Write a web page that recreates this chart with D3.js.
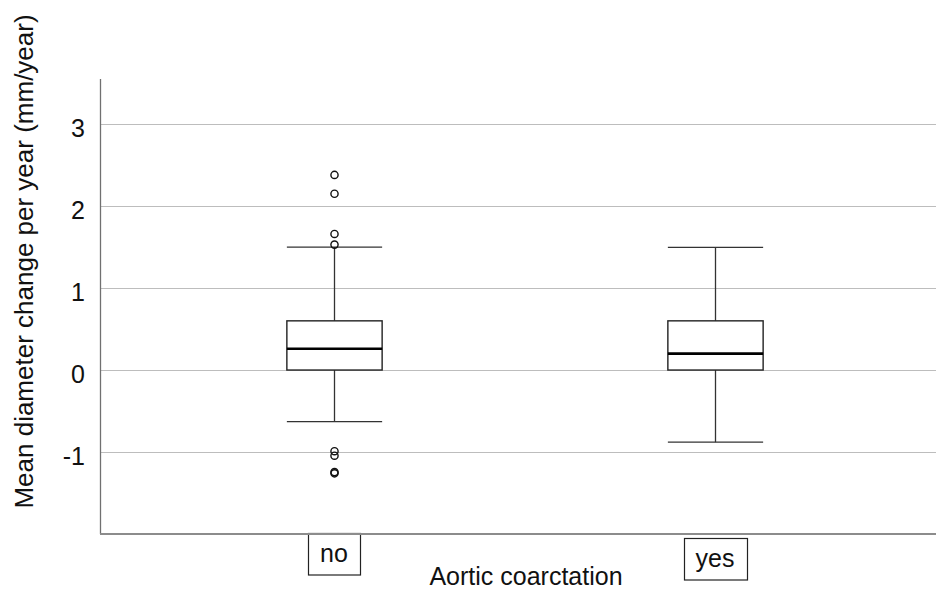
<html>
<head>
<script src="https://d3js.org/d3.v7.min.js"></script>
<style>
body { margin: 0; background: #fff; }
text { font-family: "Liberation Sans", Arial, sans-serif; }
</style>
</head>
<body>
<script>
// values
var categories = ["no", "yes"];
var whiskerLow = [-0.63, -0.88];
var q1 = [0.0, 0.0];
var median = [0.26, 0.20];
var q3 = [0.60, 0.60];
var whiskerHigh = [1.50, 1.495];
var outliersNo = [2.38, 2.15, 1.66, 1.53, -0.99, -1.045, -1.245, -1.26];
var outliersYes = [];
var yTicks = [-1, 0, 1, 2, 3];

var outliers = [outliersNo, outliersYes];

var svg = d3.select("body").append("svg")
    .attr("width", 936)
    .attr("height", 590);

var x = d3.scalePoint().domain(categories).range([100, 949]).padding(0.614);
var y = d3.scaleLinear().domain([-2, 3.55]).range([534, 79]);
var step = x.step();
var boxW = step * 0.25, capW = step * 0.125;

// gridlines
svg.selectAll(".grid").data(yTicks).enter().append("line")
   .attr("x1", 100).attr("x2", 936)
   .attr("y1", function(d){ return Math.round(y(d)) + 0.5; })
   .attr("y2", function(d){ return Math.round(y(d)) + 0.5; })
   .attr("stroke", "#bdbdbd").attr("stroke-width", 1.2);

// tick labels
svg.selectAll(".tick").data(yTicks).enter().append("text")
   .attr("x", 85)
   .attr("y", function(d){ return y(d); })
   .attr("dy", "0.5em")
   .attr("text-anchor", "end")
   .style("font-size", "25px")
   .style("fill", "#111")
   .text(function(d){ return d; });

// axes lines
svg.append("line").attr("x1", 100.5).attr("x2", 100.5).attr("y1", 79).attr("y2", 534)
   .attr("stroke", "#707070").attr("stroke-width", 1.3);
svg.append("line").attr("x1", 100).attr("x2", 936).attr("y1", 534).attr("y2", 534)
   .attr("stroke", "#8c8c8c").attr("stroke-width", 2);

// boxes
categories.forEach(function(c, i){
    var cx = Math.round(x(c)) + 0.5;
    var g = svg.append("g");
    // whiskers
    g.append("line").attr("x1", cx).attr("x2", cx)
     .attr("y1", y(whiskerHigh[i])).attr("y2", y(q3[i]))
     .attr("stroke", "#333").attr("stroke-width", 1.3);
    g.append("line").attr("x1", cx).attr("x2", cx)
     .attr("y1", y(q1[i])).attr("y2", y(whiskerLow[i]))
     .attr("stroke", "#333").attr("stroke-width", 1.3);
    g.append("line").attr("x1", cx - capW).attr("x2", cx + capW)
     .attr("y1", y(whiskerHigh[i])).attr("y2", y(whiskerHigh[i]))
     .attr("stroke", "#333").attr("stroke-width", 1.3);
    g.append("line").attr("x1", cx - capW).attr("x2", cx + capW)
     .attr("y1", y(whiskerLow[i])).attr("y2", y(whiskerLow[i]))
     .attr("stroke", "#333").attr("stroke-width", 1.3);
    // box
    g.append("rect")
     .attr("x", cx - boxW / 2).attr("width", boxW)
     .attr("y", y(q3[i])).attr("height", y(q1[i]) - y(q3[i]))
     .attr("fill", "#fff").attr("stroke", "#222").attr("stroke-width", 1.4);
    g.append("line").attr("x1", cx - boxW / 2).attr("x2", cx + boxW / 2)
     .attr("y1", y(median[i])).attr("y2", y(median[i]))
     .attr("stroke", "#000").attr("stroke-width", 2.6);
    // outliers
    g.selectAll("circle").data(outliers[i]).enter().append("circle")
     .attr("cx", cx).attr("cy", function(d){ return y(d); })
     .attr("r", 3.6)
     .attr("fill", "none").attr("stroke", "#111").attr("stroke-width", 1.4);

    // category label in a box
    var base = 562 + (i === 0 ? 0 : 4.5);
    var lab = svg.append("text")
     .attr("x", x(c)).attr("y", base)
     .attr("text-anchor", "middle")
     .style("font-size", "25px")
     .style("fill", "#111")
     .text(c);
    var bb = lab.node().getBBox();
    svg.insert("rect", "text")
     .attr("x", Math.round(bb.x - 12) + 0.5).attr("width", Math.round(bb.width + 24))
     .attr("y", Math.round(base - 29) + 0.5).attr("height", 41.5)
     .attr("fill", "#fff").attr("stroke", "#222").attr("stroke-width", 1.2);
});

// axis titles
svg.append("text")
   .attr("x", 526).attr("y", 584.5)
   .attr("text-anchor", "middle")
   .style("font-size", "25px")
   .style("fill", "#111")
   .text("Aortic coarctation");

svg.append("text")
   .attr("transform", "translate(33,261.5) rotate(-90)")
   .attr("text-anchor", "middle")
   .style("font-size", "26px")
   .style("fill", "#111")
   .text("Mean diameter change per year (mm/year)");
</script>
</body>
</html>
